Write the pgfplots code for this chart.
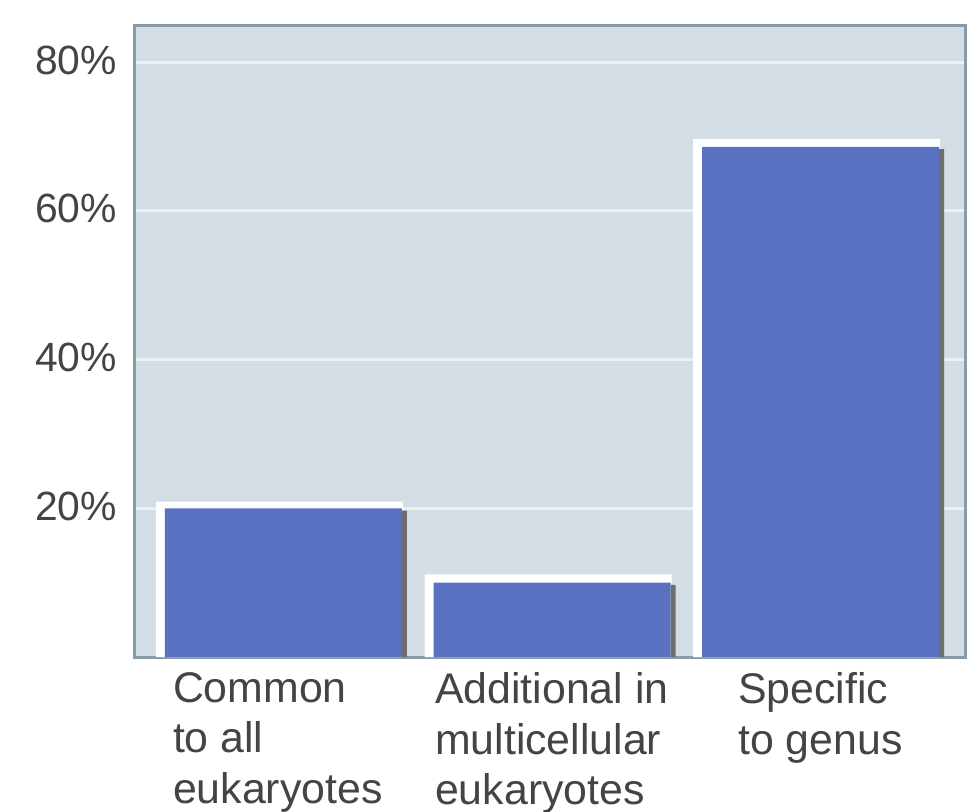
\documentclass[border=0pt]{standalone}
\usepackage{pgfplots}
\pgfplotsset{compat=1.18}
\usepackage{fontspec}
\setmainfont{Liberation Sans}
\definecolor{bg}{RGB}{211,221,227}
\definecolor{frame}{RGB}{135,155,168}
\definecolor{gridc}{RGB}{234,241,245}
\definecolor{barblue}{RGB}{90,112,192}
\definecolor{shadowc}{RGB}{110,110,112}
\definecolor{txt}{RGB}{68,68,68}
\begin{document}
\begin{tikzpicture}
\begin{axis}[
  at={(0,0)}, anchor=south west,
  scale only axis, width=830bp, height=632bp,
  xmin=-0.553, xmax=2.538, ymin=0, ymax=85,
  axis background/.style={fill=bg},
  axis line style={draw=frame, line width=3bp},
  ymajorgrids, major grid style={draw=gridc, line width=3bp},
  major tick length=0pt,
  ytick={20,40,60,80}, yticklabels={20\%,40\%,60\%,80\%},
  yticklabel style={anchor=east, inner sep=0pt, xshift=-18bp, yshift=2bp, font=\fontsize{41}{41}\selectfont, text=txt},
  xtick={-0.412,0.564,1.693},
  xticklabels={{Common\\to all\\eukaryotes},{Additional in\\multicellular\\eukaryotes},{Specific\\to genus}},
  xticklabel style={anchor=north west, inner sep=0pt, yshift=-15bp, align=left, font=\fontsize{43}{51}\selectfont, text=txt},
]
\addplot[ybar, bar width=247bp, bar shift=-4bp, fill=white, draw=none] coordinates {(0,20.9) (1,11.1) (2,69.7)};
\addplot[ybar, bar width=237bp, bar shift=0bp, fill=barblue, draw=none] coordinates {(0,20) (1,10) (2,68.6)};
\addplot[ybar, bar width=5bp, bar shift=121bp, fill=shadowc, draw=none] coordinates {(0,19.7) (1,9.7) (2,68.3)};
\end{axis}
\pgfresetboundingbox
\path (-135bp,-155bp) rectangle (833bp,657bp);
\end{tikzpicture}
\end{document}
